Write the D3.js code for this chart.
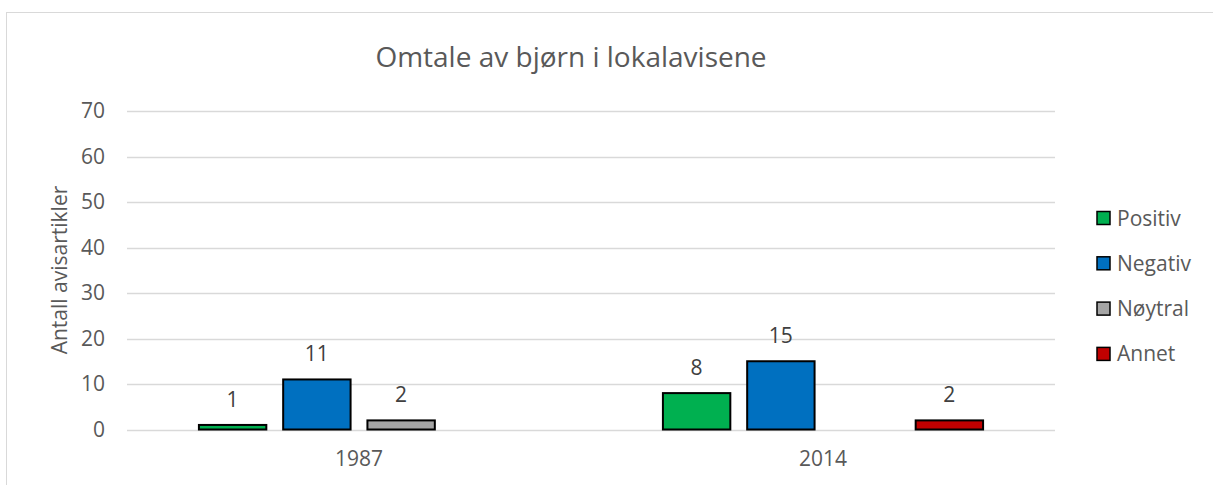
<!DOCTYPE html>
<html>
<head>
<meta charset="utf-8">
<script src="https://cdn.jsdelivr.net/npm/d3@7"></script>
<style>
  body { margin: 0; background: #fff; }
  text { font-family: "Open Sans", "Liberation Sans", sans-serif; fill: #595959; }
</style>
</head>
<body>
<div id="chart"></div>
<script>
// data
const years = ["1987", "2014"];
const seriesNames = ["Positiv", "Negativ", "Nøytral", "Annet"];
const seriesColors = ["#00b050", "#0070c0", "#a5a5a5", "#c00000"];
const values1987 = [1, 11, 2, null];
const values2014 = [8, 15, null, 2];
const yTicks = [0, 10, 20, 30, 40, 50, 60, 70];

const width = 1213, height = 485;
const margin = { left: 127, right: 158, top: 111, bottom: 55.5 };
const fontSize = 21;

const svg = d3.select("#chart").append("svg")
  .attr("width", width)
  .attr("height", height);

// chart frame
svg.append("rect")
  .attr("x", 6.5).attr("y", 12.5)
  .attr("width", width + 20).attr("height", height + 20)
  .attr("fill", "none").attr("stroke", "#d9d9d9").attr("stroke-width", 1);

const scaleX = d3.scaleBand()
  .domain(years)
  .range([margin.left, width - margin.right])
  .paddingInner(0.31)
  .paddingOuter(0.155);

const scaleSeries = d3.scaleBand()
  .domain(seriesNames)
  .range([0, scaleX.bandwidth()])
  .paddingInner(0.2);

const scaleY = d3.scaleLinear()
  .domain([0, 70])
  .range([height - margin.bottom, margin.top]);

// gridlines
svg.append("g")
  .selectAll("line")
  .data(yTicks)
  .join("line")
  .attr("x1", margin.left).attr("x2", width - margin.right)
  .attr("y1", d => Math.round(scaleY(d)) + 0.5)
  .attr("y2", d => Math.round(scaleY(d)) + 0.5)
  .attr("stroke", "#d9d9d9").attr("stroke-width", 1.3);

// y axis labels
const yAxis = d3.axisLeft(scaleY).tickValues(yTicks).tickSize(0).tickPadding(22);
const gy = svg.append("g")
  .attr("transform", `translate(${margin.left}, 0)`)
  .call(yAxis);
gy.select(".domain").remove();
gy.attr("font-size", null).attr("font-family", null);
gy.selectAll("text").attr("font-size", fontSize).attr("fill", "#595959");

// x axis labels
const xAxis = d3.axisBottom(scaleX).tickSize(0).tickPadding(22);
const gx = svg.append("g")
  .attr("transform", `translate(0, ${height - margin.bottom})`)
  .call(xAxis);
gx.select(".domain").remove();
gx.attr("font-size", null).attr("font-family", null);
gx.selectAll("text").attr("font-size", fontSize).attr("fill", "#595959");

// bars
const rows = [
  { year: years[0], values: values1987 },
  { year: years[1], values: values2014 }
];
const flat = [];
rows.forEach(r => r.values.forEach((v, i) => {
  if (v !== null) flat.push({ year: r.year, series: seriesNames[i], color: seriesColors[i], value: v });
}));

svg.append("g")
  .selectAll("rect")
  .data(flat)
  .join("rect")
  .attr("x", d => scaleX(d.year) + scaleSeries(d.series))
  .attr("y", d => scaleY(d.value))
  .attr("width", scaleSeries.bandwidth())
  .attr("height", d => scaleY(0) - scaleY(d.value))
  .attr("fill", d => d.color)
  .attr("stroke", "#000")
  .attr("stroke-width", 2);

// data labels
svg.append("g")
  .selectAll("text")
  .data(flat)
  .join("text")
  .attr("x", d => scaleX(d.year) + scaleSeries(d.series) + scaleSeries.bandwidth() / 2)
  .attr("y", d => scaleY(d.value) - 18)
  .attr("text-anchor", "middle")
  .attr("font-size", fontSize)
  .style("fill", "#404040")
  .text(d => d.value);

// title
svg.append("text")
  .attr("x", 571)
  .attr("y", 67)
  .attr("text-anchor", "middle")
  .attr("font-size", 28)
  .text("Omtale av bjørn i lokalavisene");

// y axis title
svg.append("text")
  .attr("transform", `translate(67, 270) rotate(-90)`)
  .attr("text-anchor", "middle")
  .attr("font-size", fontSize)
  .text("Antall avisartikler");

// legend
const legend = svg.append("g")
  .selectAll("g")
  .data(seriesNames)
  .join("g")
  .attr("transform", (d, i) => `translate(1097, ${218 + i * 45.3})`);

legend.append("rect")
  .attr("x", 0).attr("y", -6.5)
  .attr("width", 13).attr("height", 13)
  .attr("fill", (d, i) => seriesColors[i])
  .attr("stroke", "#000").attr("stroke-width", 1.5);

legend.append("text")
  .attr("x", 20).attr("y", 7.5)
  .attr("font-size", fontSize)
  .text(d => d);
</script>
</body>
</html>
